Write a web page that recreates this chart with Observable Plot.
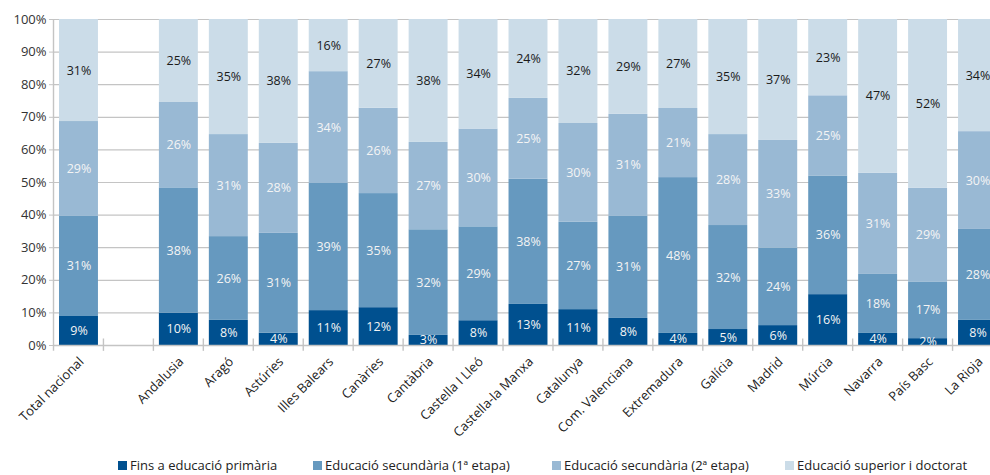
<!DOCTYPE html>
<html>
<head>
<meta charset="utf-8">
<script src="https://cdn.jsdelivr.net/npm/d3@7"></script>
<script src="https://cdn.jsdelivr.net/npm/@observablehq/plot@0.6"></script>
<style>
  html, body { margin: 0; padding: 0; background: #fff; overflow: hidden; width: 990px; height: 475px; }
  body { position: relative; font-family: "Open Sans", sans-serif; }
  #chart { position: absolute; left: 0; top: 0; width: 1010px; }
  #chart svg { max-width: none !important; }
  #legend { position: absolute; left: 0; top: 456px; width: 990px; height: 20px; font-size: 13px; color: #222; }
  .item { position: absolute; top: 0; white-space: nowrap; line-height: 18px; }
  .sw { display: inline-block; width: 9px; height: 9px; margin-right: 3px; vertical-align: -0px; }
</style>
</head>
<body>
<div id="chart"></div>
<div id="legend"></div>
<script>
const categories = ["Total nacional", " ", "Andalusia", "Aragó", "Astúries", "Illes Balears", "Canàries", "Cantàbria", "Castella I Lleó", "Castella-la Manxa", "Catalunya", "Com. Valenciana", "Extremadura", "Galícia", "Madrid", "Múrcia", "Navarra", "País Basc", "La Rioja"];
const seriesNames = ["Fins a educació primària", "Educació secundària (1ª etapa)", "Educació secundària (2ª etapa)", "Educació superior i doctorat"];
const primaria  = [8.9, null, 9.9, 7.7, 3.8, 10.7, 11.6, 3.1, 7.6, 12.6, 11.0, 8.3, 3.7, 4.9, 6.1, 15.6, 3.7, 2.1, 7.7];
const secundaria1 = [30.7, null, 38.45, 25.7, 30.6, 39.0, 35.0, 32.4, 28.8, 38.4, 26.8, 31.3, 47.8, 31.9, 23.7, 36.4, 18.1, 17.4, 27.9];
const secundaria2 = [29.1, null, 26.2, 31.3, 27.6, 34.3, 26.2, 26.8, 30.0, 24.8, 30.3, 31.3, 21.2, 27.9, 33.1, 24.6, 31.0, 28.7, 30.0];
const superior  = [31.3, null, 25.45, 35.3, 38.0, 16.0, 27.2, 37.7, 33.6, 24.2, 31.9, 29.1, 27.3, 35.3, 37.1, 23.4, 47.2, 51.8, 34.4];
const yTicks = [0, 10, 20, 30, 40, 50, 60, 70, 80, 90, 100];
const colors = ["#00508f", "#6699bf", "#99b9d4", "#cbdce8"];

const seriesValues = [primaria, secundaria1, secundaria2, superior];
const data = [];
categories.forEach((c, i) => {
  seriesNames.forEach((s, j) => {
    const v = seriesValues[j][i];
    if (v != null) data.push({cat: c, series: s, value: v});
  });
});

const W = 1010, mL = 53, mR = 8;
const step = (W - mL - mR) / categories.length;
const gray = "#c4c4c4";

const chart = Plot.plot({
  width: W,
  height: 450,
  marginLeft: mL,
  marginRight: mR,
  marginTop: 19,
  marginBottom: 105,
  style: {fontFamily: "'Open Sans', sans-serif", fontSize: "13px", color: "#222", background: "transparent", maxWidth: "none"},
  x: {domain: categories, padding: 0, round: false, axis: null},
  y: {domain: [0, 100], axis: null},
  color: {domain: seriesNames, range: colors},
  marks: [
    Plot.ruleY(yTicks.filter(d => d > 0), {y: d => d, stroke: gray, strokeWidth: 1.2}),
    Plot.barY(data, {x: "cat", y: "value", fill: "series", insetLeft: 6, insetRight: 5}),
    Plot.text(data, Plot.stackY({x: "cat", y: "value", z: "series",
      text: d => Math.round(d.value) + "%",
      fill: d => d.series === seriesNames[3] ? "#1a1a1a" : "#f4f4f4",
      fontSize: 12.5, dx: 0.5})),
    Plot.ruleY([0], {stroke: gray, strokeWidth: 1.4}),
    Plot.ruleX([categories[0]], {x: d => d, dx: -step / 2, y1: -1.8, y2: 100, stroke: gray, strokeWidth: 1.4}),
    Plot.ruleX(categories, {x: d => d, dx: step / 2, y1: -1.8, y2: 2, stroke: gray, strokeWidth: 1.4}),
    Plot.axisY({ticks: yTicks, tickFormat: d => d + "%", tickSize: 4, tickPadding: 3, stroke: gray, fill: "#333", fontSize: 13, label: null}),
    Plot.text(categories.filter(c => c.trim() !== ""), {x: d => d, text: d => d, frameAnchor: "bottom", rotate: -45, textAnchor: "end", dx: 6, dy: 17, fill: "#222", fontSize: 13})
  ]
});
document.getElementById("chart").appendChild(chart);

const legendX = [118, 313, 552, 785];
const legend = document.getElementById("legend");
seriesNames.forEach((s, i) => {
  const it = document.createElement("div");
  it.className = "item";
  it.style.left = legendX[i] + "px";
  it.innerHTML = `<span class="sw" style="background:${colors[i]}"></span>${s}`;
  legend.appendChild(it);
});
</script>
</body>
</html>
